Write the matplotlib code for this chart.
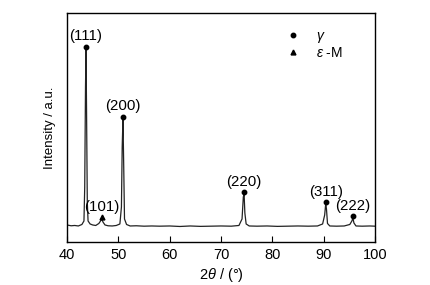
import matplotlib
matplotlib.use("Agg")
import matplotlib.pyplot as plt
from matplotlib.lines import Line2D

plt.rcParams['font.family'] = ['Liberation Sans', 'DejaVu Sans']
plt.rcParams['mathtext.fontset'] = 'custom'
plt.rcParams['mathtext.rm'] = 'Liberation Sans'
plt.rcParams['mathtext.it'] = 'Liberation Sans:italic'

# XRD trace (2theta in degrees, intensity in arbitrary units)
two_theta = [40.0, 40.8, 41.5, 42.2, 42.9, 43.3, 43.45, 43.6, 43.7, 43.8, 43.95, 44.1,
             44.5, 45.0, 45.6, 46.2, 46.6, 46.8, 47.0, 47.4, 48.0, 48.8, 49.6, 50.3,
             50.6, 50.75, 50.9, 51.05, 51.2, 51.6, 52.3, 53.5, 55.0, 56.5, 58.0, 60.0,
             62.0, 64.0, 66.0, 68.0, 70.0, 72.0, 73.5, 74.1, 74.35, 74.5, 74.65, 74.9,
             75.5, 77.0, 79.0, 81.0, 83.0, 85.0, 87.0, 88.8, 89.8, 90.2, 90.4, 90.55,
             90.75, 91.2, 92.5, 94.0, 95.1, 95.5, 95.7, 95.9, 96.3, 97.5, 99.0, 100.0]
intensity = [2.0, 1.2, 1.5, 1.0, 2.5, 6.0, 40.0, 140.0, 178.0, 120.0, 25.0, 6.0,
             3.0, 2.0, 1.5, 3.5, 6.5, 8.0, 5.0, 2.0, 1.2, 1.0, 1.5, 3.0,
             20.0, 80.0, 108.0, 60.0, 8.0, 2.5, 1.0, 1.2, 0.8, 1.0, 0.8, 1.0,
             0.5, 1.0, 0.6, 0.8, 1.0, 0.8, 1.5, 8.0, 30.0, 33.0, 14.0, 3.0,
             1.0, 0.8, 1.0, 0.6, 0.8, 1.0, 0.8, 1.0, 3.0, 12.0, 23.0, 18.0,
             3.5, 1.0, 0.8, 1.0, 2.5, 6.0, 9.0, 4.0, 1.0, 0.8, 1.0, 0.8]

# gamma peaks
gamma_pos = [43.7, 50.9, 74.5, 90.4, 95.7]
gamma_int = [179, 109, 33, 23, 9]
gamma_lbl = ['(111)', '(200)', '(220)', '(311)', '(222)']

# epsilon-M peak
eps_pos = [46.8]
eps_int = [8]
eps_lbl = ['(101)']

fig = plt.figure(figsize=(4.31, 2.85), dpi=100)
ax = fig.add_axes([0.1555, 0.151, 0.7145, 0.803])

ax.plot(two_theta, intensity, color='#222222', lw=0.9)

ax.plot(gamma_pos, [v + 1.5 for v in gamma_int], 'o', color='black', ms=3.2, ls='none')
ax.plot(eps_pos, [v + 2 for v in eps_int], '^', color='black', ms=3.5, ls='none')

for p, v, t in zip(gamma_pos, gamma_int, gamma_lbl):
    ax.annotate(t, (p, v), xytext=(0, 3.5), textcoords='offset points',
                ha='center', va='bottom', fontsize=10.8)
for p, v, t in zip(eps_pos, eps_int, eps_lbl):
    ax.annotate(t, (p, v), xytext=(0, 3.5), textcoords='offset points',
                ha='center', va='bottom', fontsize=10.8)

ax.set_xlim(40, 100)
ax.set_ylim(-15, 214)
ax.set_xticks(range(40, 101, 10))
ax.set_yticks([])
ax.tick_params(axis='x', direction='in', length=4, labelsize=10.5, pad=4)
for s in ax.spines.values():
    s.set_linewidth(1.0)

ax.set_xlabel(r'$2\theta$ / (°)', fontsize=10.5, labelpad=3)
ax.set_ylabel('Intensity / a.u.', fontsize=9.5, labelpad=8)

handles = [Line2D([], [], marker='o', color='black', ls='none', ms=3.2),
           Line2D([], [], marker='^', color='black', ls='none', ms=3.5)]
ax.legend(handles, [r'$\gamma$', r'$\varepsilon$ -M'], frameon=False, fontsize=10,
          loc='upper left', bbox_to_anchor=(0.66, 0.985), handletextpad=0.9,
          labelspacing=0.05, handlelength=1.5)

fig.savefig('out.png', dpi=100)
